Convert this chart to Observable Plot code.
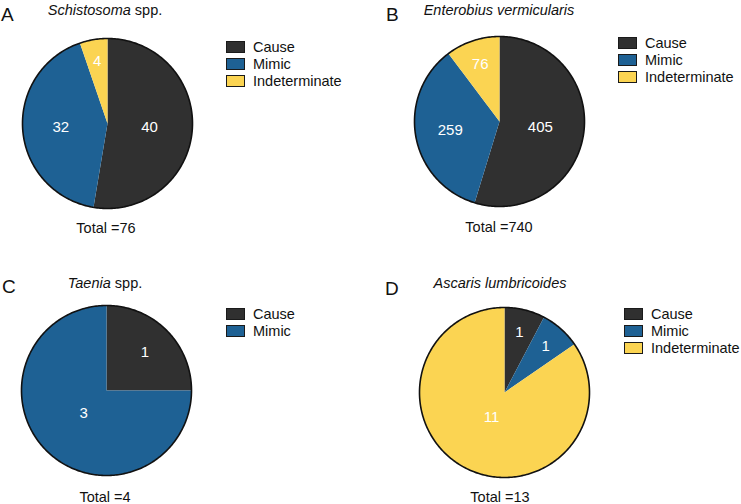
<!DOCTYPE html>
<html>
<head>
<meta charset="utf-8">
<script src="https://cdn.jsdelivr.net/npm/d3@7"></script>
<script src="https://cdn.jsdelivr.net/npm/@observablehq/plot@0.6"></script>
<style>
  html, body { margin: 0; padding: 0; background: #fff; }
  #wrap { position: relative; width: 741px; height: 504px; overflow: hidden; font-family: "Liberation Sans", Arial, Helvetica, sans-serif; color: #111; }
  .abs { position: absolute; white-space: nowrap; }
  .center { transform: translate(-50%, -50%); }
  .letter { font-size: 19px; transform: translate(0, -50%); }
  .title { font-size: 14.5px; }
  .total { font-size: 14.5px; }
  .legrow { position: absolute; display: flex; align-items: center; font-size: 14.5px; height: 17px; }
  .sw { width: 17px; height: 10px; border: 1.5px solid #1a1a1a; margin-right: 8px; }
  .pie { position: absolute; }
</style>
</head>
<body>
<div id="wrap"></div>
<script>
// ---- data ----
const categories = ["Cause", "Mimic", "Indeterminate"];
const categoryColors = ["#303030", "#1e6194", "#fbd452"];
const panelLetters = ["A", "B", "C", "D"];
const panelGenus = ["Schistosoma", "Enterobius vermicularis", "Taenia", "Ascaris lumbricoides"];
const panelSuffix = [" spp.", "", " spp.", ""];
const causeValues = [40, 405, 1, 1];
const mimicValues = [32, 259, 3, 1];
const indeterminateValues = [4, 76, 0, 11];

// ---- layout (pixel positions of panel elements) ----
const layout = [
  {cx: 107, cy: 123, letter: [1, 15], title: [105, 10], total: [106, 228], leg: [226, 41, 254]},
  {cx: 499, cy: 121, letter: [386, 15], title: [499, 10], total: [499, 227], leg: [618, 37, 646]},
  {cx: 106, cy: 390, letter: [2, 287], title: [105, 283], total: [105, 497], leg: [226, 308, 254]},
  {cx: 504, cy: 392, letter: [385, 289], title: [500, 283], total: [500, 497], leg: [624, 308, 652]}
];
const PIE = 180;

const wrap = document.getElementById("wrap");
function addDiv(cls, x, y, html) {
  const d = document.createElement("div");
  d.className = "abs " + cls;
  d.style.left = x + "px";
  d.style.top = y + "px";
  d.innerHTML = html;
  wrap.appendChild(d);
  return d;
}

function circleFeature() {
  const coords = [];
  for (let k = 0; k <= 360; k++) {
    const t = k * Math.PI / 180;
    coords.push([Math.sin(t), -Math.cos(t)]);
  }
  return {type: "Feature", properties: {}, geometry: {type: "Polygon", coordinates: [coords]}};
}

function piePlot(values) {
  const data = categories.map((c, i) => ({category: c, value: values[i]})).filter(d => d.value > 0);
  const total = d3.sum(data, d => d.value);
  const arcs = d3.pie().sort(null).value(d => d.value)(data);
  const slices = arcs.map(a => {
    const n = Math.max(2, Math.ceil((a.endAngle - a.startAngle) / (Math.PI / 180)));
    const coords = [[0, 0]];
    for (let k = 0; k <= n; k++) {
      const t = a.startAngle + (a.endAngle - a.startAngle) * k / n;
      coords.push([Math.sin(t), -Math.cos(t)]);
    }
    coords.push([0, 0]);
    return {type: "Feature", properties: {category: a.data.category}, geometry: {type: "Polygon", coordinates: [coords]}};
  });
  const labels = arcs.map(a => {
    const m = (a.startAngle + a.endAngle) / 2;
    const f = a.data.value / total;
    const r = 0.77 - 0.52 * f;
    return {x: r * Math.sin(m), y: -r * Math.cos(m), text: String(a.data.value)};
  });
  const outline = circleFeature();
  return Plot.plot({
    width: PIE, height: PIE, margin: 0,
    style: {fontFamily: "'Liberation Sans', Arial, sans-serif", background: "transparent"},
    projection: {type: "identity", domain: outline, inset: 5},
    color: {domain: categories, range: categoryColors},
    marks: [
      Plot.geo(slices, {fill: d => d.properties.category}),
      Plot.geo([outline], {fill: "none", stroke: "#111", strokeWidth: 1.6}),
      Plot.text(labels, {x: "x", y: "y", text: "text", fill: "white", fontSize: 15})
    ]
  });
}

panelLetters.forEach((letter, i) => {
  const L = layout[i];
  const values = [causeValues[i], mimicValues[i], indeterminateValues[i]];
  addDiv("letter", L.letter[0], L.letter[1], letter);
  addDiv("title center", L.title[0], L.title[1], `<i>${panelGenus[i]}</i>${panelSuffix[i]}`);
  const svg = piePlot(values);
  svg.classList.add("pie");
  svg.style.left = (L.cx - PIE / 2) + "px";
  svg.style.top = (L.cy - PIE / 2) + "px";
  wrap.appendChild(svg);
  addDiv("total center", L.total[0], L.total[1], "Total =" + d3.sum(values));
  let row = 0;
  categories.forEach((c, j) => {
    if (values[j] <= 0) return;
    const d = document.createElement("div");
    d.className = "legrow";
    d.style.left = L.leg[0] + "px";
    d.style.top = (L.leg[1] + row * 17 - 3) + "px";
    d.innerHTML = `<span class="sw" style="background:${categoryColors[j]}"></span><span>${c}</span>`;
    wrap.appendChild(d);
    row++;
  });
});
</script>
</body>
</html>
